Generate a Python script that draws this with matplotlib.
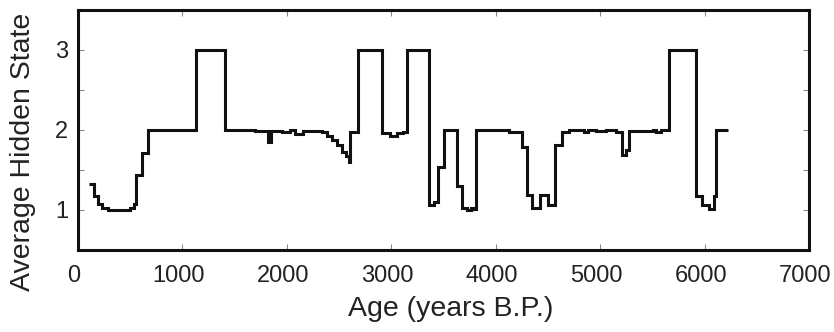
import matplotlib
matplotlib.use("Agg")
import matplotlib.pyplot as plt
from matplotlib.ticker import MultipleLocator
from matplotlib.transforms import ScaledTranslation

plt.rcParams['font.family'] = ['Liberation Sans', 'DejaVu Sans']

# Change points (age, years B.P.) and the state value starting at each
ages = [101, 149, 190, 228, 283, 494, 532, 558, 615, 669,
        1133, 1405, 1690, 1820, 1850, 1950, 2030, 2075, 2150,
        2332, 2380, 2428, 2476, 2524, 2565, 2590, 2603, 2677,
        2907, 2987, 3050, 3111, 3146, 3364, 3412, 3450, 3507,
        3626, 3680, 3720, 3760, 3790, 3808, 4121, 4249, 4297,
        4345, 4425, 4495, 4569, 4632, 4700, 4840, 4880, 4960,
        5050, 5150, 5208, 5246, 5272, 5500, 5530, 5580, 5655,
        5918, 5968, 6039, 6087, 6109]
values = [1.33, 1.18, 1.075, 1.02, 1.0, 1.02, 1.075, 1.44, 1.71, 2.0,
          3.0, 2.0, 1.99, 1.85, 1.99, 1.97, 2.0, 1.95, 1.99,
          1.97, 1.93, 1.88, 1.81, 1.73, 1.67, 1.60, 1.98, 3.0,
          1.96, 1.92, 1.96, 1.98, 3.0, 1.06, 1.10, 1.54, 2.0,
          1.30, 1.02, 1.0, 1.03, 1.01, 2.0, 1.97, 1.79, 1.19,
          1.02, 1.19, 1.06, 1.81, 1.97, 2.0, 1.97, 2.0, 1.99,
          2.0, 1.98, 1.69, 1.75, 1.99, 2.0, 1.98, 2.0, 3.0,
          1.17, 1.06, 1.01, 1.17, 2.0]
end_age = 6225

x_ticks = [0, 1000, 2000, 3000, 4000, 5000, 6000, 7000]
y_ticks = [1, 2, 3]

fig = plt.figure(figsize=(8.34, 3.32), dpi=100)
ax = fig.add_axes([0.0935, 0.247, 0.877, 0.723])

ax.stairs(values, ages + [end_age], baseline=None, color='#111111', linewidth=2.2)

ax.set_xlim(0, 7000)
ax.set_ylim(0.5, 3.5)
ax.set_xticks(x_ticks)
ax.set_yticks(y_ticks)
ax.yaxis.set_minor_locator(MultipleLocator(0.5))
ax.tick_params(axis='both', which='both', direction='in', top=True, right=True,
               length=4, width=0.8, color='#888888', labelsize=17, labelcolor='#222222')
ax.tick_params(axis='x', pad=11)
ax.tick_params(axis='y', pad=7)
shift = ScaledTranslation(-4 / 100, 0, fig.dpi_scale_trans)
for lab in ax.get_xticklabels():
    lab.set_transform(lab.get_transform() + shift)
for s in ax.spines.values():
    s.set_linewidth(2.2)
    s.set_color('#111111')

ax.set_xlabel('Age (years B.P.)', fontsize=20.5, color='#222222')
ax.xaxis.set_label_coords(0.51, -0.19)
ax.set_ylabel('Average Hidden State', fontsize=20.5, color='#222222')
ax.yaxis.set_label_coords(-0.058, 0.41)

fig.savefig('out.png', dpi=100)
